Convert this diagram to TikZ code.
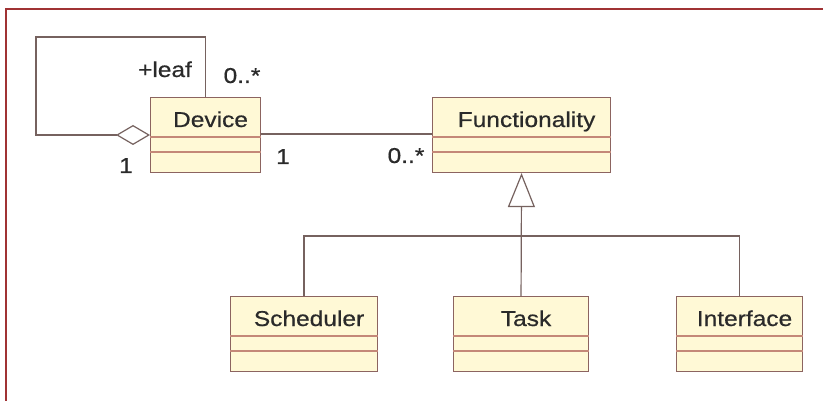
\documentclass[tikz,border=0pt]{standalone}
\usepackage{fontspec}
\newfontfamily\umlfont[FakeStretch=1.14, FakeBold=0.6]{Liberation Sans}
\usetikzlibrary{calc,arrows.meta}

\definecolor{framered}{RGB}{160,50,52}
\definecolor{boxfill}{RGB}{255,249,214}
\definecolor{boxline}{RGB}{140,100,96}
\definecolor{sepline}{RGB}{196,136,120}
\definecolor{connline}{RGB}{118,98,95}
\definecolor{inkgray}{RGB}{42,42,42}

\tikzset{
  classbox/.style={draw=boxline, line width=1.1pt, fill=boxfill,
    rectangle, anchor=north west, inner sep=0pt, minimum height=75pt},
  classname/.style={anchor=base, inner sep=0pt, text=inkgray,
    font=\umlfont\fontsize{21.5}{24}\selectfont},
  mult/.style={anchor=base, inner sep=0pt, text=inkgray,
    font=\umlfont\fontsize{21.5}{24}\selectfont},
  sepbar/.style={draw=sepline, line width=1.7pt},
  conn/.style={draw=connline, line width=1.2pt},
  frameline/.style={draw=framered, line width=2pt}
}

\begin{document}
\begin{tikzpicture}[x=1pt, y=-1pt]
  \useasboundingbox[fill=white] (0,0) rectangle (823,401);

  % outer frame (left and top edges)
  \draw[frameline] (6,401) -- (6,9) -- (823,9);

  % class boxes
  \node[classbox, minimum width=110pt] (dev)  at (150,97)  {};
  \node[classbox, minimum width=178pt] (fun)  at (432,97)  {};
  \node[classbox, minimum width=147pt] (sch)  at (230,296) {};
  \node[classbox, minimum width=135pt] (task) at (453,296) {};
  \node[classbox, minimum width=126pt] (intf) at (676,296) {};

  % compartment separators and class names
  \foreach \c/\t in {dev/Device, fun/Functionality, sch/Scheduler, task/Task, intf/Interface}{
    \draw[sepbar] ($(\c.north west)+(0,40)$) -- ($(\c.north east)+(0,40)$);
    \draw[sepbar] ($(\c.north west)+(0,55)$) -- ($(\c.north east)+(0,55)$);
    \node[classname] (\c-name) at ($(\c.north)+(5,30)$) {\t};
  }

  % recursive aggregation on Device
  \coordinate (loopcorner) at (36,37);
  \coordinate (aggend) at ($(dev.north west)+(0,38)$);
  \draw[conn, -{Diamond[open, length=34pt, width=20pt, line width=1.2pt]}]
    (dev.north) -- (dev.north |- loopcorner) -- (loopcorner)
    -- (loopcorner |- aggend) -- (aggend);

  % association Device -- Functionality
  \draw[conn] ($(dev.north east)+(0,37)$) -- ($(fun.north west)+(0,37)$);

  % generalization tree
  \coordinate (bar) at (0,236);
  \draw[conn] (sch.north) -- (sch.north |- bar) -- (intf.north |- bar) -- (intf.north);
  \draw[conn, -{Triangle[open, length=34pt, width=27pt, line width=1.2pt]}]
    (task.north) -- (fun.south);

  % role name and multiplicities
  \node[mult] (leafrole) at (165,77)  {+leaf};
  \node[mult] (loopmany) at (242,83)  {0..*};
  \node[mult] (loopone)  at (126,173) {1};
  \node[mult] (assocone) at (283,164) {1};
  \node[mult] (assocmany) at (406,163) {0..*};
\end{tikzpicture}
\end{document}
